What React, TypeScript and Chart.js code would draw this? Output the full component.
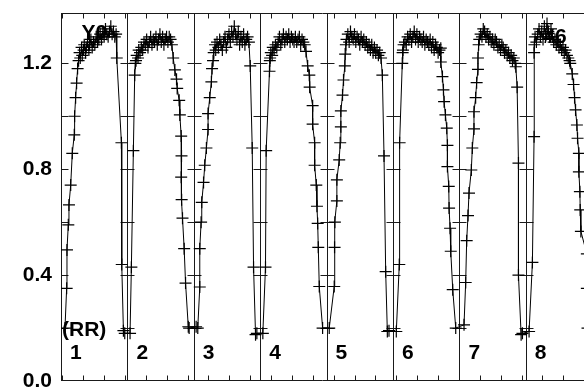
import React, { useEffect, useRef } from 'react';
import { Chart, registerables } from 'chart.js';

Chart.register(...registerables);

// ---------- data (x in cycle units, panel k spans [k-1, k]) ----------
const panelLabels = ['1', '2', '3', '4', '5', '6', '7', '8'];
const yTickLabels = [0.0, 0.4, 0.8, 1.2];
const panelTickValues = [0.2, 0.4, 0.6, 0.8, 1.0, 1.2];
const cornerLabelLeft = 'Y0';
const cornerLabelRight = '#6';
const seriesLabel = '(RR)';
const X_MAX = 7.877;
const Y_MAX = 1.39;
const xMinorStart = 0.0196;
const xMinorStep = 0.3144;

const phase1 = [0.06, 0.085, 0.09, 0.11, 0.12, 0.146, 0.17, 0.2, 0.205, 0.22, 0.235, 0.25, 0.265,
  0.28, 0.29, 0.31, 0.32, 0.34, 0.35, 0.37, 0.38, 0.40, 0.42, 0.43, 0.45, 0.47, 0.49, 0.51, 0.53, 0.55, 0.57, 0.59, 0.61, 0.63, 0.65, 0.67, 0.69, 0.71, 0.73, 0.75, 0.77, 0.79, 0.81, 0.83,
  0.84, 0.91, 0.915, 0.94, 0.96];
const flux1 = [0.2, 0.35, 0.495, 0.59, 0.665, 0.74, 0.86, 0.93, 1.0, 1.07, 1.125, 1.18, 1.21,
  1.24, 1.22, 1.26, 1.23, 1.25, 1.27, 1.24, 1.26, 1.28, 1.25, 1.27, 1.29, 1.26, 1.28, 1.27, 1.30, 1.28, 1.29, 1.31, 1.29, 1.32, 1.30, 1.33, 1.31, 1.30, 1.32, 1.34, 1.31, 1.32, 1.30, 1.31,
  1.22, 0.9, 0.44, 0.19, 0.18];

const phase2 = [1.04, 1.06, 1.09, 1.11, 1.12,
  1.13, 1.14, 1.16, 1.17, 1.19, 1.21, 1.23, 1.25, 1.27, 1.29, 1.31, 1.33, 1.35, 1.37, 1.39, 1.41, 1.43, 1.45, 1.47, 1.49, 1.51, 1.53, 1.55, 1.57, 1.59, 1.61, 1.63, 1.65, 1.67,
  1.69, 1.715, 1.74, 1.75, 1.78, 1.79, 1.81, 1.815, 1.81, 1.817, 1.83, 1.855, 1.876, 1.917, 1.93];
const flux2 = [0.18, 0.43, 0.87, 1.155, 1.2,
  1.21, 1.23, 1.22, 1.25, 1.24, 1.26, 1.25, 1.28, 1.27, 1.29, 1.26, 1.28, 1.30, 1.27, 1.29, 1.28, 1.30, 1.27, 1.29, 1.31, 1.28, 1.30, 1.27, 1.29, 1.30, 1.28, 1.30, 1.29, 1.27,
  1.22, 1.175, 1.14, 1.105, 1.06, 1.005, 0.925, 0.85, 0.77, 0.685, 0.615, 0.5, 0.37, 0.205, 0.2];

const phase3 = [2.035, 2.06, 2.09, 2.09, 2.11, 2.12, 2.147, 2.165, 2.19, 2.215, 2.215, 2.24, 2.265, 2.275, 2.29,
  2.30, 2.32, 2.33, 2.35, 2.37, 2.39, 2.41, 2.43, 2.45, 2.47, 2.49, 2.51, 2.53, 2.55, 2.57, 2.59, 2.61, 2.63, 2.65, 2.67, 2.69, 2.71, 2.73, 2.75, 2.77, 2.79, 2.81, 2.83,
  2.85, 2.88, 2.9, 2.93, 2.95];
const flux3 = [0.205, 0.2, 0.355, 0.5, 0.6, 0.675, 0.75, 0.815, 0.88, 0.95, 1.01, 1.07, 1.13, 1.18, 1.21,
  1.24, 1.27, 1.25, 1.28, 1.26, 1.29, 1.27, 1.25, 1.28, 1.30, 1.26, 1.29, 1.31, 1.28, 1.32, 1.30, 1.34, 1.31, 1.29, 1.32, 1.27, 1.30, 1.28, 1.31, 1.27, 1.29, 1.30, 1.28,
  1.19, 0.88, 0.43, 0.175, 0.18];

const phase4 = [3.04, 3.08, 3.09, 3.14, 3.145,
  3.15, 3.16, 3.18, 3.19, 3.21, 3.23, 3.25, 3.27, 3.29, 3.31, 3.33, 3.35, 3.37, 3.39, 3.41, 3.43, 3.45, 3.47, 3.49, 3.51, 3.53, 3.55, 3.57, 3.59, 3.61, 3.63, 3.65, 3.67,
  3.69, 3.715, 3.74, 3.745, 3.79, 3.79, 3.82, 3.82, 3.845, 3.855, 3.866, 3.875, 3.89, 3.94];
const flux4 = [0.18, 0.43, 0.87, 1.17, 1.21,
  1.22, 1.24, 1.23, 1.26, 1.25, 1.27, 1.26, 1.28, 1.30, 1.27, 1.29, 1.31, 1.28, 1.30, 1.29, 1.31, 1.28, 1.30, 1.29, 1.28, 1.30, 1.28, 1.29, 1.30, 1.27, 1.29, 1.28, 1.27,
  1.245, 1.19, 1.155, 1.11, 1.04, 0.97, 0.9, 0.815, 0.74, 0.66, 0.595, 0.505, 0.357, 0.2];

const phase5 = [4.04, 4.115, 4.12, 4.125, 4.155, 4.155, 4.19, 4.205, 4.215, 4.215, 4.24, 4.255, 4.275, 4.28,
  4.29, 4.30, 4.32, 4.34, 4.36, 4.38, 4.40, 4.42, 4.44, 4.46, 4.48, 4.50, 4.52, 4.54, 4.56, 4.58, 4.60, 4.62, 4.64, 4.66, 4.68, 4.70, 4.72, 4.74, 4.76, 4.78, 4.80, 4.82,
  4.84, 4.865, 4.89, 4.915, 4.94];
const flux5 = [0.2, 0.357, 0.505, 0.6, 0.68, 0.76, 0.835, 0.9, 0.96, 1.02, 1.08, 1.137, 1.19, 1.235,
  1.27, 1.29, 1.31, 1.28, 1.32, 1.30, 1.29, 1.31, 1.28, 1.30, 1.29, 1.27, 1.30, 1.28, 1.29, 1.27, 1.28, 1.26, 1.27, 1.25, 1.27, 1.24, 1.26, 1.24, 1.25, 1.23, 1.24, 1.22,
  1.155, 0.85, 0.413, 0.187, 0.19];

const phase6 = [5.05, 5.095, 5.1, 5.14, 5.145,
  5.15, 5.16, 5.18, 5.20, 5.22, 5.24, 5.26, 5.28, 5.30, 5.32, 5.34, 5.36, 5.38, 5.40, 5.42, 5.44, 5.46, 5.48, 5.50, 5.52, 5.54, 5.56, 5.58, 5.60, 5.62, 5.64, 5.66, 5.68, 5.70,
  5.72, 5.72, 5.745, 5.76, 5.77, 5.79, 5.81, 5.82, 5.82, 5.84, 5.845, 5.86, 5.87, 5.9, 5.945];
const flux6 = [0.187, 0.44, 0.9, 1.2, 1.24,
  1.25, 1.27, 1.28, 1.27, 1.30, 1.29, 1.31, 1.28, 1.30, 1.32, 1.29, 1.31, 1.28, 1.30, 1.29, 1.28, 1.30, 1.27, 1.29, 1.28, 1.27, 1.29, 1.26, 1.28, 1.25, 1.27, 1.26, 1.24, 1.25,
  1.257, 1.205, 1.15, 1.1, 1.055, 1.005, 0.955, 0.89, 0.81, 0.735, 0.653, 0.577, 0.49, 0.345, 0.2];

const phase7 = [6.07, 6.095, 6.11, 6.13, 6.145, 6.18, 6.195, 6.22, 6.22, 6.245, 6.26, 6.28, 6.28, 6.29,
  6.30, 6.32, 6.34, 6.36, 6.38, 6.40, 6.42, 6.44, 6.46, 6.48, 6.50, 6.52, 6.54, 6.56, 6.58, 6.60, 6.62, 6.64, 6.66, 6.68, 6.70, 6.72, 6.74, 6.76, 6.78, 6.80, 6.82, 6.84,
  6.85, 6.87, 6.89, 6.89, 6.93, 6.95];
const flux7 = [0.212, 0.372, 0.53, 0.625, 0.71, 0.797, 0.88, 0.952, 1.017, 1.07, 1.127, 1.177, 1.22, 1.27,
  1.29, 1.31, 1.30, 1.33, 1.32, 1.30, 1.31, 1.29, 1.30, 1.28, 1.29, 1.27, 1.29, 1.28, 1.26, 1.27, 1.25, 1.27, 1.26, 1.24, 1.25, 1.23, 1.24, 1.22, 1.23, 1.21, 1.22, 1.20,
  1.187, 1.11, 0.823, 0.40, 0.175, 0.18];

const phase8 = [7.05, 7.1, 7.125, 7.125,
  7.13, 7.14, 7.16, 7.18, 7.20, 7.22, 7.24, 7.26, 7.28, 7.30, 7.32, 7.34, 7.36, 7.38, 7.40, 7.42, 7.44, 7.46, 7.48, 7.50, 7.52, 7.54, 7.56, 7.58, 7.60, 7.62, 7.64, 7.66,
  7.67, 7.7, 7.72, 7.735, 7.75, 7.77, 7.78, 7.8, 7.8, 7.815, 7.82, 7.83, 7.92, 7.92, 7.93];
const flux8 = [0.187, 0.448, 0.923, 1.24,
  1.27, 1.30, 1.28, 1.31, 1.33, 1.30, 1.32, 1.29, 1.34, 1.31, 1.35, 1.32, 1.30, 1.33, 1.30, 1.28, 1.29, 1.27, 1.28, 1.26, 1.27, 1.25, 1.26, 1.24, 1.25, 1.23, 1.22, 1.21,
  1.2, 1.16, 1.12, 1.07, 1.024, 0.967, 0.917, 0.86, 0.79, 0.715, 0.646, 0.565, 0.48, 0.35, 0.2];

const phases = [phase1, phase2, phase3, phase4, phase5, phase6, phase7, phase8];
const fluxes = [flux1, flux2, flux3, flux4, flux5, flux6, flux7, flux8];

const FONT = 'bold 21px "Liberation Sans", Arial, Helvetica, sans-serif';

const framePlugin = {
  id: 'panelFrame',
  beforeDatasetsDraw(chart: any) {
    const { ctx, chartArea: a, scales } = chart;
    const x = scales.x;
    const y = scales.y;
    const crisp = (v: number) => Math.round(v) + 0.5;
    ctx.save();
    ctx.lineWidth = 1;
    ctx.strokeStyle = '#1a1a1a';
    ctx.beginPath();
    // top & bottom frame
    const top = crisp(a.top);
    const bottom = crisp(a.bottom) - 1;
    ctx.moveTo(a.left, top);
    ctx.lineTo(a.right, top);
    ctx.moveTo(a.left, bottom);
    ctx.lineTo(a.right, bottom);
    // panel dividers with tick marks on both sides
    for (let k = 0; k <= panelLabels.length; k++) {
      const px = crisp(x.getPixelForValue(k));
      if (px > a.right + 2) break;
      ctx.moveTo(px, a.top);
      ctx.lineTo(px, a.bottom);
      for (const v of panelTickValues) {
        const py = crisp(y.getPixelForValue(v));
        ctx.moveTo(k === 0 ? px : px - 7, py);
        ctx.lineTo(px + 7, py);
      }
    }
    // small top/bottom ticks
    for (let v = xMinorStart; v <= X_MAX; v += xMinorStep) {
      const px = crisp(x.getPixelForValue(v));
      ctx.moveTo(px, top);
      ctx.lineTo(px, top + 5);
      ctx.moveTo(px, bottom);
      ctx.lineTo(px, bottom - 5);
    }
    ctx.stroke();

    // labels
    ctx.fillStyle = '#000';
    ctx.font = FONT;
    ctx.textBaseline = 'middle';
    ctx.textAlign = 'left';
    panelLabels.forEach((lab, i) => {
      ctx.fillText(lab, x.getPixelForValue(i) + 9, y.getPixelForValue(0.106));
    });
    ctx.fillText(seriesLabel, x.getPixelForValue(0) + 1, y.getPixelForValue(0.19));
    ctx.fillText(cornerLabelLeft, x.getPixelForValue(0.31), y.getPixelForValue(1.312));
    ctx.textAlign = 'right';
    ctx.fillText(cornerLabelRight, x.getPixelForValue(7.615), y.getPixelForValue(1.30));
    ctx.restore();
  },
};

export default function App() {
  const canvasRef = useRef<HTMLCanvasElement | null>(null);

  useEffect(() => {
    if (!canvasRef.current) return;
    const points: { x: number; y: number }[] = [];
    phases.forEach((ph, i) => {
      ph.forEach((p, j) => points.push({ x: p, y: fluxes[i][j] }));
    });
    const chart = new Chart(canvasRef.current, {
      type: 'scatter',
      data: {
        datasets: [
          {
            data: points,
            showLine: true,
            borderColor: '#000',
            borderWidth: 1,
            pointStyle: 'cross',
            pointRadius: 6,
            pointBorderWidth: 1.2,
            pointBorderColor: '#000',
            pointBackgroundColor: '#000',
            tension: 0,
          } as any,
        ],
      },
      options: {
        animation: false,
        responsive: true,
        maintainAspectRatio: false,
        layout: { autoPadding: false, padding: { top: 13, bottom: 9, left: 0, right: 0 } },
        plugins: { legend: { display: false }, tooltip: { enabled: false } },
        events: [],
        scales: {
          x: {
            type: 'linear',
            min: 0,
            max: X_MAX,
            display: false,
          },
          y: {
            type: 'linear',
            min: 0,
            max: Y_MAX,
            afterBuildTicks: (s: any) => {
              s.ticks = yTickLabels.map((v) => ({ value: v }));
            },
            afterFit: (s: any) => {
              s.width = 61;
              s.paddingTop = 0;
              s.paddingBottom = 0;
            },
            grid: { display: false, drawTicks: false },
            border: { display: false },
            ticks: {
              color: '#000',
              padding: 9,
              font: { family: '"Liberation Sans", Arial, sans-serif', weight: 'bold', size: 21 },
              callback: (v: any) => Number(v).toFixed(1),
            },
          },
        },
      },
      plugins: [framePlugin],
    });
    return () => chart.destroy();
  }, []);

  return (
    <div style={{ position: 'absolute', left: 0, top: 0, width: 584, height: 390, overflow: 'hidden', background: '#fff' }}>
      <canvas ref={canvasRef} />
    </div>
  );
}
